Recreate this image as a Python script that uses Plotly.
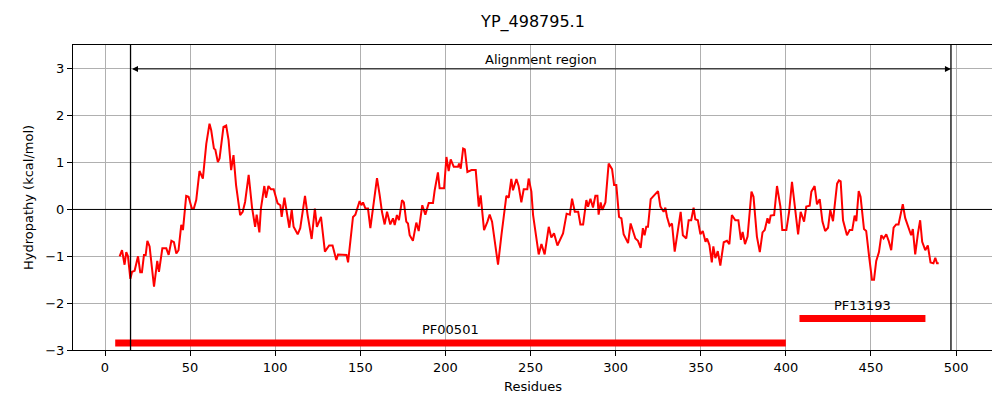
import plotly.graph_objects as go

residues = [8.6, 10, 11.5, 12.5, 13.5, 14.9, 15.9, 17.4, 19.4, 20.7, 21.7, 22.9, 23.9, 24.9, 26.2, 27.2, 28.8, 30.7, 31.7, 33.7,
            36, 37.4, 39, 40.5, 41.9, 43.2, 44.8, 45.8, 47.7, 49.1, 51, 52.2, 53.6, 55.5, 57.5, 59.5, 61.4, 62.4, 64, 64.8,
            66.3, 67.3, 69.6, 71.2, 72.6, 74.1, 75.5, 77, 79.4, 80.9, 82.3, 84.4, 86.4, 88.2, 89.1, 90.7, 91.6, 93.6, 94.6, 96,
            97.5, 99.1, 101.4, 103, 103.8, 105.4, 106.7, 108.3, 109.7, 110.8, 113.2, 114.7, 117.5, 119, 121.4, 123.3, 124.5, 126.9, 129.2, 131.7,
            133.7, 134.7, 135.9, 136.9, 141.9, 142.8, 145.7, 147.1, 149.6, 150.6, 151.6, 153, 154.5, 155.9, 157.5, 159.8, 161.4, 162.7, 164.3, 165.7,
            167.6, 169.2, 170.2, 171.5, 172.7, 174.5, 175.6, 177, 178, 179, 180.9, 182.9, 184.3, 186.4, 188.2, 190.2, 192.7, 193.7, 195.6, 196.6,
            199.2, 200.6, 201.9, 203.1, 204.9, 207.4, 208, 209, 210.4, 211.4, 212.9, 215.3, 217.8, 219.6, 220.7, 222.7, 224.7, 226, 227.4, 230.9,
            232.9, 234.4, 235.8, 237.2, 238.7, 239.7, 241.7, 243, 244.6, 246, 248.1, 248.9, 250.5, 251.5, 253, 254.8, 256.4, 258.3, 260.7, 262.2,
            263.8, 265.8, 269.1, 271.2, 273.1, 274.4, 276, 278, 279.3, 280.9, 282.8, 283.8, 285.2, 286.7, 288.1, 289.3, 290, 291.2, 292.2, 294,
            295.9, 297.9, 299.1, 300.4, 302, 303.4, 304.7, 307.3, 308.8, 311.6, 313.1, 314.7, 316, 317, 318, 319, 320.6, 322.5, 324.9, 326.3,
            328.2, 329.2, 330.2, 331.7, 333.1, 334.7, 336.2, 338.2, 339.5, 341.5, 342.9, 344.4, 345.8, 346.8, 348.3, 349.8, 351.2, 352.8, 353.7, 355.1,
            356.5, 357.4, 358.6, 360, 361.5, 363.5, 365.4, 366.8, 368.3, 370.3, 372.1, 373.6, 374.6, 376, 377.5, 379.8, 381, 383, 384.7, 386.3,
            387.6, 389.2, 390.2, 391.1, 393.1, 394.8, 396.8, 397.9, 400.3, 401.9, 403.6, 405.2, 407.2, 408.7, 410.7, 412, 414, 415, 416.9, 418.3,
            419.9, 421.5, 423.1, 424.8, 426.1, 427.7, 430.1, 431.2, 432.2, 433.6, 435.9, 437.5, 439, 440.4, 441.4, 442.8, 443.9, 445.9, 447.2, 448.9,
            450.6, 451.8, 453.1, 454.7, 456.1, 457.4, 459, 460.4, 461.9, 463.3, 464.8, 466.2, 468.7, 470.1, 472.1, 473.6, 474.6, 476, 477.6, 478.9,
            480.1, 481.9, 483.4, 485, 486.7, 487.8, 488.8, 489.8]
hydropathy = [-1.0, -0.87, -1.18, -0.91, -1.0, -1.48, -1.33, -1.31, -1.0, -1.34, -1.34, -0.97, -0.97, -0.67, -0.79, -1.08, -1.65, -1.1, -1.33, -0.83,
              -0.83, -0.97, -0.67, -0.7, -0.94, -0.87, -0.33, -0.44, 0.29, 0.27, 0.02, 0.02, 0.2, 0.82, 0.66, 1.4, 1.83, 1.69, 1.3, 1.28,
              1.01, 1.09, 1.76, 1.79, 1.48, 0.84, 1.16, 0.52, -0.12, -0.05, 0.16, 0.74, 0.04, -0.37, -0.11, -0.49, 0.02, 0.5, 0.25, 0.5,
              0.43, 0.43, 0.13, 0.09, -0.16, 0.25, -0.04, -0.39, -0.01, -0.37, -0.53, -0.4, 0.29, -0.11, -0.63, 0.02, -0.37, -0.16, -0.9, -0.77,
              -0.77, -0.94, -1.08, -0.96, -0.97, -1.13, -0.16, -0.11, 0.18, 0.09, 0.15, 0.02, 0.02, -0.4, 0.02, 0.67, 0.3, -0.05, -0.32, -0.05,
              -0.32, -0.19, -0.33, -0.12, -0.23, 0.2, 0.15, -0.26, -0.3, -0.55, -0.67, -0.28, -0.46, 0.09, -0.11, 0.14, 0.14, 0.41, 0.79, 0.45,
              0.45, 1.12, 0.82, 1.07, 0.91, 0.91, 0.98, 0.87, 1.3, 1.28, 0.8, 0.84, 0.84, 0.06, 0.3, -0.44, -0.26, -0.11, -0.26, -1.18,
              -0.55, -0.12, 0.29, 0.25, 0.65, 0.41, 0.65, 0.5, 0.15, 0.43, 0.43, 0.66, 0.38, -0.12, -0.53, -0.96, -0.74, -0.96, -0.37, -0.6,
              -0.51, -0.77, -0.51, -0.09, -0.11, 0.23, -0.05, -0.05, -0.32, -0.32, 0.2, 0.06, 0.23, 0.04, 0.29, 0.29, -0.11, 0.15, -0.01, 0.15,
              0.98, 0.86, 0.52, 0.52, -0.16, -0.19, -0.53, -0.72, -0.3, -0.62, -0.67, -0.82, -0.4, -0.55, -0.37, -0.37, 0.22, 0.29, 0.39, 0.06,
              -0.05, 0.04, -0.16, -0.35, -0.3, -0.9, -0.51, -0.05, -0.55, -0.62, -0.23, -0.23, 0.04, -0.21, -0.23, -0.53, -0.46, -0.69, -0.62, -0.76,
              -1.13, -0.79, -1.04, -0.89, -1.2, -0.7, -0.67, -0.74, -0.12, -0.23, -0.23, -0.65, -0.48, -0.74, -0.58, 0.38, 0.27, -0.58, -0.91, -0.49,
              -0.44, -0.19, -0.3, -0.13, -0.12, 0.5, 0.06, -0.44, -0.44, -0.05, 0.59, 0.06, -0.53, -0.05, -0.26, 0.06, 0.08, 0.38, 0.5, 0.11,
              0.22, -0.26, -0.46, -0.39, -0.01, -0.25, 0.55, 0.62, 0.6, -0.23, -0.55, -0.44, -0.44, -0.13, -0.25, 0.39, 0.27, -0.42, -0.46, -1.0,
              -1.5, -1.5, -1.1, -0.91, -0.55, -0.62, -0.53, -0.67, -0.87, -0.39, -0.32, -0.32, 0.11, -0.18, -0.4, -0.55, -0.42, -0.96, -0.51, -0.23,
              -0.69, -0.87, -0.77, -1.13, -1.15, -1.03, -1.15, -1.15]

domain_names = ["PF00501", "PF13193"]
domain_start = [6, 408]
domain_end = [400, 482]
domain_level = [-2.85, -2.33]
align_start, align_end = 15, 497

fig = go.Figure()
fig.add_trace(go.Scatter(x=residues, y=hydropathy, mode="lines",
                         line=dict(color="red", width=2), showlegend=False))
for name, s, e, lv in zip(domain_names, domain_start, domain_end, domain_level):
    fig.add_trace(go.Scatter(x=[s, e], y=[lv, lv], mode="lines",
                             line=dict(color="red", width=7), showlegend=False))
    fig.add_annotation(x=(s + e) / 2, y=lv + 0.08, text=name, showarrow=False,
                       yanchor="bottom", font=dict(size=13, color="black"))

fig.add_hline(y=0, line=dict(color="black", width=1))
for xv in (align_start, align_end):
    fig.add_vline(x=xv, line=dict(color="black", width=1.3))

# double headed arrow for the alignment region
fig.add_annotation(x=align_end, y=3, ax=align_start, ay=3, xref="x", yref="y",
                   axref="x", ayref="y", text="", showarrow=True, arrowhead=2,
                   arrowside="end+start", arrowwidth=1, arrowsize=1.2, arrowcolor="black")
fig.add_annotation(x=(align_start + align_end) / 2, y=3.0, text="Alignment region",
                   showarrow=False, yanchor="bottom", font=dict(size=13, color="black"))

axis = dict(showline=True, linecolor="black", mirror=True, ticks="outside",
            tickcolor="black", showgrid=True, gridcolor="#b0b0b0", zeroline=False,
            automargin=False, tickfont=dict(size=13, color="black"))
fig.update_layout(
    width=1000, height=400,
    margin=dict(l=65, r=15, t=37, b=58),
    plot_bgcolor="white", paper_bgcolor="white",
    font=dict(family="DejaVu Sans", color="black"),
    title=dict(text="YP_498795.1", x=0.525, xanchor="center", y=0.98, yanchor="top",
               font=dict(size=16), automargin=False),
    xaxis=dict(axis, range=[-18.8, 521.7], dtick=50, title=dict(text="Residues", font=dict(size=13), standoff=8)),
    yaxis=dict(axis, range=[-3, 3.51], tickvals=[-3, -2, -1, 0, 1, 2, 3],
               ticktext=["\u22123", "\u22122", "\u22121", "0", "1", "2", "3"],
               title=dict(text="Hydropathy (kcal/mol)", font=dict(size=13), standoff=8)),
)
fig.write_html("out.html")
